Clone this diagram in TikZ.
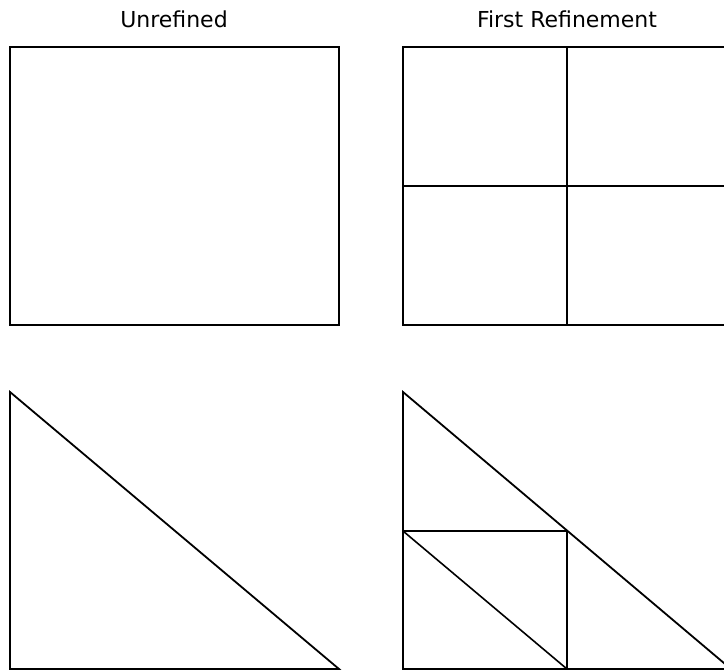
\documentclass[tikz,border=0pt]{standalone}
\usepackage{fontspec}
\setmainfont{DejaVu Sans}
\usetikzlibrary{positioning}
\tikzset{
  cell/.style={draw=black, line width=1.8pt, line join=miter},
  split/.style={draw=black, line width=1.6pt},
  paneltitle/.style={anchor=base, inner sep=0pt, font=\fontsize{22}{26}\selectfont},
}

\begin{document}
\begin{tikzpicture}[x=1pt, y=-1pt]
\useasboundingbox (0,0) rectangle (724,670);
\clip (0,0) rectangle (724,670);
% titles
\node[paneltitle] (tU) at (174,27) {Unrefined};
\node[paneltitle] (tR) at (567,27) {First Refinement};
% unrefined square and triangle
\draw[cell] (10,47) rectangle (339,325);
\draw[cell] (10,392) -- (10,669) -- (339,669) -- cycle;
% refined square
\begin{scope}[xshift=393pt]
  \coordinate (sw) at (10,325);
  \coordinate (ne) at (338,47);
  \coordinate (n)  at (174,47);
  \coordinate (s)  at (174,325);
  \coordinate (w)  at (10,186);
  \coordinate (e)  at (338,186);
  \draw[cell] (sw) rectangle (ne);
  \draw[split] (n) -- (s);
  \draw[split] (w) -- (e);
\end{scope}
% refined triangle
\begin{scope}[xshift=393pt]
  \coordinate (a)  at (10,392);
  \coordinate (b)  at (10,669);
  \coordinate (c)  at (338,669);
  \coordinate (ab) at (10,531);
  \coordinate (ac) at (174,531);
  \coordinate (bc) at (174,669);
  \draw[cell] (a) -- (b) -- (c) -- cycle;
  \draw[split] (ab) -- (ac) -- (bc) -- (ab);
\end{scope}
\end{tikzpicture}
\end{document}
